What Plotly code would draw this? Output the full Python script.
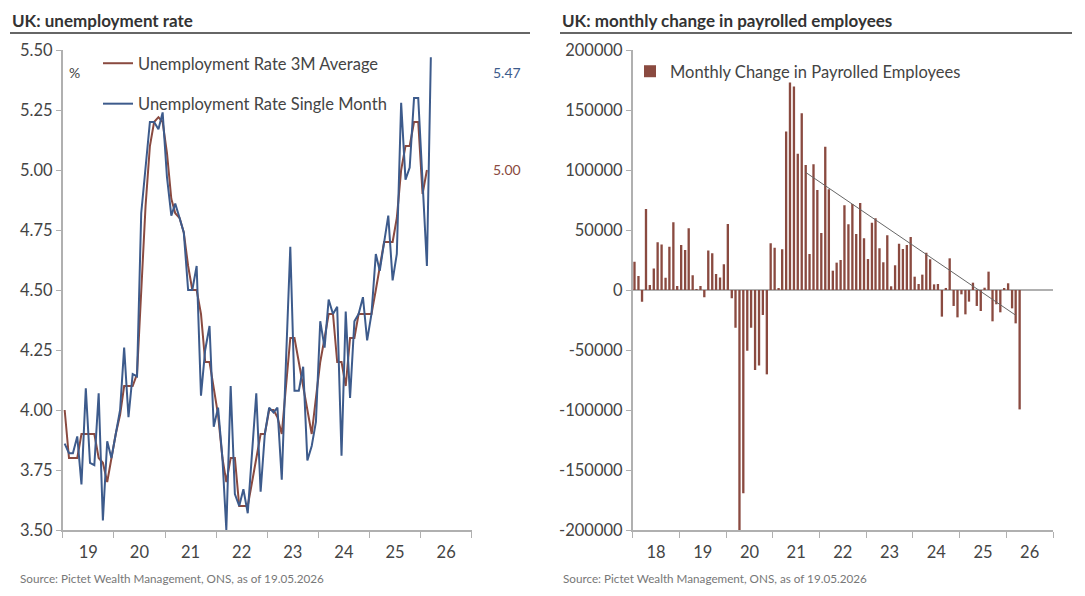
import pandas as pd
import plotly.graph_objects as go

# UK unemployment rate, monthly from Jan 2019
rate_single = [
    3.86, 3.82, 3.82, 3.89, 3.69, 4.09, 3.78, 3.77, 4.07, 3.54, 3.87, 3.80,
    3.90, 4.00, 4.26, 3.97, 4.15, 4.14, 4.82, 5.00, 5.20, 5.20, 5.17, 5.24,
    4.97, 4.81, 4.86, 4.80, 4.74, 4.50, 4.50, 4.60, 4.06, 4.25, 4.35, 3.93,
    4.01, 3.80, 3.50, 4.10, 3.65, 3.60, 3.67, 3.57, 3.82, 4.07, 3.66, 3.90,
    4.01, 3.99, 4.01, 3.71, 4.20, 4.68, 4.08, 4.08, 4.18, 3.79, 3.85, 3.95,
    4.37, 4.26, 4.46, 4.40, 4.43, 3.81, 4.41, 4.05, 4.37, 4.40, 4.47, 4.29,
    4.40, 4.65, 4.58, 4.70, 4.81, 4.54, 4.65, 5.28, 4.96, 5.01, 5.30, 5.30,
    4.95, 4.60, 5.47,
]
rate_3m = [
    4.00, 3.80, 3.80, 3.80, 3.90, 3.90, 3.90, 3.90, 3.80, 3.78, 3.70, 3.80,
    3.90, 3.98, 4.10, 4.10, 4.10, 4.15, 4.50, 4.85, 5.10, 5.20, 5.22, 5.20,
    5.07, 4.88, 4.82, 4.80, 4.74, 4.60, 4.50, 4.50, 4.40, 4.20, 4.20, 4.10,
    3.98, 3.80, 3.70, 3.80, 3.80, 3.60, 3.60, 3.60, 3.70, 3.80, 3.90, 3.90,
    4.00, 4.00, 3.97, 3.90, 4.10, 4.30, 4.30, 4.20, 4.10, 4.00, 3.90, 4.05,
    4.20, 4.30, 4.40, 4.40, 4.20, 4.20, 4.10, 4.30, 4.30, 4.40, 4.40, 4.40,
    4.40, 4.50, 4.60, 4.70, 4.70, 4.70, 4.80, 5.00, 5.10, 5.10, 5.20, 5.20,
    4.90, 5.00,
]

# monthly change in payrolled employees from Jan 2018
payrolls = [
    23600, 11700, -9700, 67500, 4200, 18000, 39700, 38000, 10300, 36100, 56400, 3300,
    37500, 33300, 51400, 12200, 500, 3300, -6100, 33000, 30600, 13300, 10500, 21400,
    55000, -6900, -31400, -200000, -169400, -50600, -31400, -66700, -63000, -20800, -70300, 38900,
    35300, 1400, 33900, 132000, 173000, 169500, 113600, 147200, 104200, 30000, 104700, 83300,
    47500, 119400, 83900, 16100, 22800, 25000, 70600, 54700, 71700, 46700, 72500, 43100,
    25800, 56100, 59700, 34700, 23100, 45600, 3100, 20600, 38600, 34200, 37500, 44200,
    11100, 5000, 12800, 31100, 25600, 4700, 5000, -22200, 1700, 26400, -13300, -22800,
    -3600, -20300, -9700, 6100, -13300, -17500, 1900, 15300, -26100, -11900, -18600, 1400,
    5600, -15300, -27800, -99500,
]
trend_idx = [44, 98]
trend_vals = [98000, -21000]

pay_ticks = [200000, 150000, 100000, 50000, 0, -50000, -100000, -150000, -200000]

months_rate = pd.date_range("2019-01-01", periods=len(rate_single), freq="MS") + pd.Timedelta(days=14)
months_pay = pd.date_range("2018-01-01", periods=len(payrolls), freq="MS") + pd.Timedelta(days=14)

BROWN = "#8a4a40"
BLUE = "#3d5b8c"
AXIS = "#b0b0b0"
TXT = "#444444"
FONT = "Lato"

# the page puts an 8px body margin round the figure, so shrink it by that
OFF = 8
W, H = 1085 - OFF, 596 - OFF


def px(x):
    return (x - OFF) / W


def py(y):
    return (H - (y - OFF)) / H


fig = go.Figure()
fig.add_trace(go.Scatter(x=months_rate[:len(rate_3m)], y=rate_3m, mode="lines",
                         name="Unemployment Rate 3M Average", legendgroup="a",
                         line=dict(color=BROWN, width=2), xaxis="x", yaxis="y", legend="legend"))
fig.add_trace(go.Scatter(x=months_rate, y=rate_single, mode="lines",
                         name="Unemployment Rate Single Month", legendgroup="b",
                         line=dict(color=BLUE, width=2), xaxis="x", yaxis="y", legend="legend"))
fig.add_trace(go.Bar(x=months_pay, y=payrolls, marker=dict(color=BROWN, line_width=0),
                     name="Monthly Change in Payrolled Employees",
                     xaxis="x2", yaxis="y2", legend="legend2"))
fig.add_trace(go.Scatter(x=[months_pay[i] for i in trend_idx], y=trend_vals, mode="lines",
                         line=dict(color="#666666", width=1), showlegend=False,
                         xaxis="x2", yaxis="y2"))

common_x = dict(type="date", dtick="M12", ticklabelmode="period", tickformat="%y",
                ticks="outside", ticklen=6, tickcolor=AXIS, showline=True, linecolor=AXIS,
                linewidth=1.5, showgrid=False, zeroline=False, automargin=False,
                tickfont=dict(size=16.5, color=TXT))
common_y = dict(ticks="outside", ticklen=5, tickcolor=AXIS, showline=True, linecolor=AXIS,
                linewidth=1.5, showgrid=False, automargin=False,
                tickfont=dict(size=16.5, color=TXT))

fig.update_layout(
    width=W, height=H, margin=dict(l=0, r=0, t=0, b=0, autoexpand=False),
    paper_bgcolor="white", plot_bgcolor="white",
    font=dict(family=FONT, color=TXT),
    bargap=0.35,
    xaxis=dict(domain=[px(62.7), px(471.7)], range=["2019-01-01", "2027-01-01"],
               tick0="2019-01-01", anchor="y", **common_x),
    yaxis=dict(domain=[py(530), py(50)], range=[3.5, 5.5], dtick=0.25, tickformat=".2f",
               zeroline=False, anchor="x", **common_y),
    xaxis2=dict(domain=[px(632.7), px(1053)], range=["2018-01-01", "2027-01-01"],
                tick0="2018-01-01", anchor="y2", **common_x),
    yaxis2=dict(domain=[py(530), py(50)], range=[-200000, 200000], tickmode="array",
                tickvals=pay_ticks, ticktext=[str(v) for v in pay_ticks],
                zeroline=True, zerolinecolor=AXIS, zerolinewidth=1.5, anchor="x2", **common_y),
    legend=dict(x=px(98), y=py(46), xanchor="left", yanchor="top", bgcolor="rgba(0,0,0,0)",
                font=dict(size=16.5, color=TXT), tracegroupgap=16),
    legend2=dict(x=px(630), y=py(54), xanchor="left", yanchor="top", bgcolor="rgba(0,0,0,0)",
                 font=dict(size=16.5, color=TXT)),
    showlegend=True,
)

ann = [
    dict(text="<b>UK: unemployment rate</b>", x=px(10), y=py(20), font=dict(size=17, color="#333333")),
    dict(text="<b>UK: monthly change in payrolled employees</b>", x=px(560), y=py(20),
         font=dict(size=17, color="#333333")),
    dict(text="Source: Pictet Wealth Management, ONS, as of 19.05.2026", x=px(18), y=py(578),
         font=dict(size=11.7, color="#777777")),
    dict(text="Source: Pictet Wealth Management, ONS, as of 19.05.2026", x=px(561), y=py(578),
         font=dict(size=11.7, color="#777777")),
    dict(text="%", x=px(67), y=py(72), font=dict(size=14, color=TXT)),
]
for a in ann:
    fig.add_annotation(xref="paper", yref="paper", xanchor="left", yanchor="middle",
                       showarrow=False, **a)

fig.add_annotation(xref="paper", yref="y", x=px(507), y=rate_single[-1], yshift=-15,
                   text=f"{rate_single[-1]:.2f}", showarrow=False, xanchor="center",
                   font=dict(size=14, color=BLUE))
fig.add_annotation(xref="paper", yref="y", x=px(507), y=rate_3m[-1],
                   text=f"{rate_3m[-1]:.2f}", showarrow=False, xanchor="center",
                   font=dict(size=14, color=BROWN))

for x0, x1 in [(10, 530), (560, 1072)]:
    fig.add_shape(type="line", xref="paper", yref="paper", x0=px(x0), x1=px(x1),
                  y0=py(33), y1=py(33), line=dict(color="#666666", width=2))

fig.write_html("out.html")
